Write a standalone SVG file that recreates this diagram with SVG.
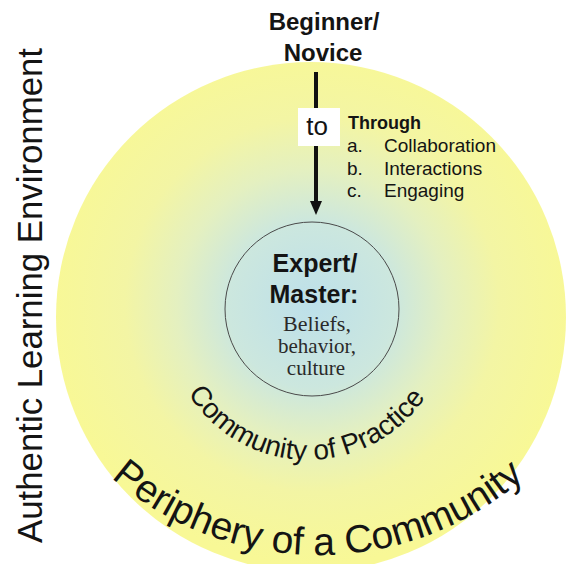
<svg xmlns="http://www.w3.org/2000/svg" xmlns:xlink="http://www.w3.org/1999/xlink" width="568" height="564" viewBox="0 0 568 564">
  <style>
    .sans { font-family: "Liberation Sans", Arial, sans-serif; fill: #141414; }
    .serif { font-family: "Liberation Serif", "Times New Roman", serif; fill: #2a2a2a; }
    .bold { font-weight: bold; }
  </style>
  <defs>
    <radialGradient id="discFill" gradientUnits="userSpaceOnUse" cx="312" cy="305" r="260">
      <stop offset="0" stop-color="#bde0ea"/>
      <stop offset="0.32" stop-color="#cce7de"/>
      <stop offset="0.52" stop-color="#e4f0c0"/>
      <stop offset="0.72" stop-color="#f3f5a4"/>
      <stop offset="1" stop-color="#f8f896"/>
    </radialGradient>
    <marker id="arrowHead" viewBox="0 0 14 12" refX="4" refY="6" markerWidth="14" markerHeight="12" markerUnits="userSpaceOnUse" orient="auto">
      <path d="M0 0 L14 6 L0 12 Z" fill="#111"/>
    </marker>
    <!-- baseline arcs for the curved labels -->
    <path id="innerArc" d="M 167 319 A 141 141 0 0 0 449 319"/>
    <path id="outerArc" d="M 3 240 A 315 315 0 0 0 633 240"/>
  </defs>

  <rect width="568" height="564" fill="#ffffff"/>

  <!-- periphery disc -->
  <g id="periphery">
    <circle cx="311" cy="317" r="255" fill="url(#discFill)"/>
    <text class="sans" font-size="39">
      <textPath xlink:href="#outerArc" href="#outerArc" startOffset="50%" text-anchor="middle">Periphery of a Community</textPath>
    </text>
  </g>

  <!-- community of practice label -->
  <g id="community">
    <text class="sans" font-size="28">
      <textPath xlink:href="#innerArc" href="#innerArc" startOffset="219" text-anchor="middle">Community of Practice</textPath>
    </text>
  </g>

  <!-- expert / master core -->
  <g id="expert">
    <circle cx="312" cy="309" r="87" fill="none" stroke="#4a4a4a" stroke-width="1"/>
    <text class="sans bold" font-size="25" x="315" y="272" text-anchor="middle">Expert/</text>
    <text class="sans bold" font-size="25" x="314" y="303" text-anchor="middle">Master:</text>
    <text class="serif" font-size="22" x="317" y="331" text-anchor="middle">Beliefs,</text>
    <text class="serif" font-size="21" x="317" y="353" text-anchor="middle">behavior,</text>
    <text class="serif" font-size="21" x="316" y="375" text-anchor="middle">culture</text>
  </g>

  <!-- beginner / novice start -->
  <g id="novice">
    <text class="sans bold" font-size="24" x="324" y="30" text-anchor="middle">Beginner/</text>
    <text class="sans bold" font-size="24" x="323" y="61" text-anchor="middle">Novice</text>
  </g>

  <!-- connector: novice to expert -->
  <g id="connectors">
    <line x1="316" y1="72" x2="316" y2="205" stroke="#111" stroke-width="4" marker-end="url(#arrowHead)"/>
  </g>

  <!-- "to" label on the connector -->
  <g id="to-label">
    <rect x="298" y="108" width="42" height="38" fill="#ffffff"/>
    <text class="sans" font-size="26" x="317" y="135" text-anchor="middle">to</text>
  </g>

  <!-- means list -->
  <g id="through">
    <text class="sans bold" font-size="18" x="348" y="129">Through</text>
    <text class="sans" font-size="19" x="347" y="152">a.</text>
    <text class="sans" font-size="19" x="384" y="152">Collaboration</text>
    <text class="sans" font-size="19" x="347" y="175">b.</text>
    <text class="sans" font-size="19" x="384" y="175">Interactions</text>
    <text class="sans" font-size="19" x="347" y="197">c.</text>
    <text class="sans" font-size="19" x="384" y="197">Engaging</text>
  </g>

  <!-- environment label -->
  <g id="environment">
    <text class="sans" font-size="35" x="0" y="0" text-anchor="middle" textLength="495" lengthAdjust="spacingAndGlyphs" transform="translate(42 295.5) rotate(-90)">Authentic Learning Environment</text>
  </g>
</svg>
